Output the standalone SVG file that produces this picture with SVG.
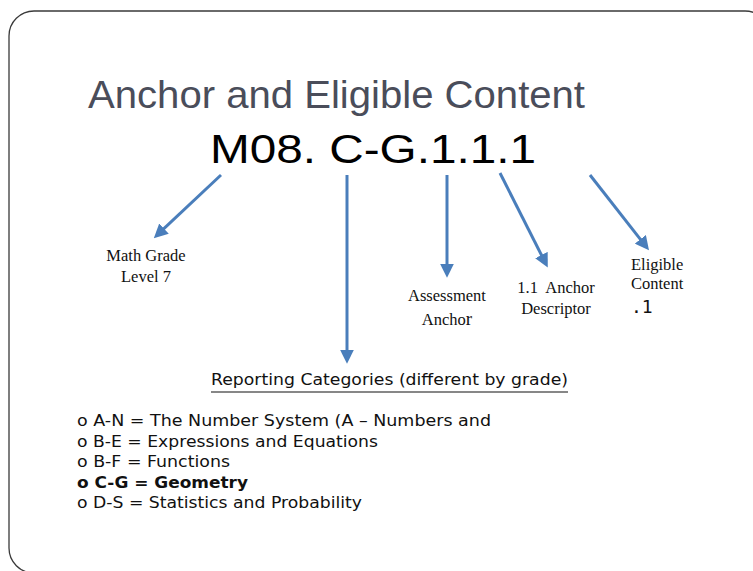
<svg xmlns="http://www.w3.org/2000/svg" width="753" height="571" viewBox="0 0 753 571">
<style>
.lbl{font-family:"Liberation Serif","Times New Roman",serif;font-size:16.5px;fill:#111}
.list{font-family:"DejaVu Sans",Verdana,sans-serif;font-size:15px;fill:#111}
.arr{stroke:#4A7EBB;stroke-width:3;fill:none;marker-end:url(#ah)}
</style>
<defs>
<marker id="ah" markerUnits="userSpaceOnUse" markerWidth="14" markerHeight="14" viewBox="0 0 12 12" refX="2" refY="6" orient="auto">
<path d="M0,0 L12,6 L0,12 z" fill="#4A7EBB"/>
</marker>
</defs>
<rect x="9" y="11" width="761" height="562" rx="25" ry="25" fill="#fff" stroke="#3a3a3a" stroke-width="1.3"/>
<g id="title">
<text x="88" y="108" font-family="Liberation Sans, Arial, sans-serif" font-size="39" fill="#4A4D5A" textLength="497" lengthAdjust="spacingAndGlyphs">Anchor and Eligible Content</text>
</g>
<g id="code">
<text x="210" y="163" font-family="Liberation Sans, Arial, sans-serif" font-size="41" fill="#000" textLength="326" lengthAdjust="spacingAndGlyphs">M08. C-G.1.1.1</text>
</g>
<g id="connectors">
<line class="arr" x1="221" y1="175" x2="162.3" y2="230.2"/>
<line class="arr" x1="347" y1="175" x2="347" y2="352"/>
<line class="arr" x1="447" y1="175" x2="447" y2="266"/>
<line class="arr" x1="500" y1="173" x2="542.5" y2="257.1"/>
<line class="arr" x1="590" y1="175" x2="641.8" y2="241.1"/>
</g>
<g id="math-grade">
<text class="lbl" x="146" y="261" text-anchor="middle">Math Grade</text>
<text class="lbl" x="146" y="282" text-anchor="middle">Level 7</text>
</g>
<g id="assessment-anchor">
<text class="lbl" x="447" y="301" text-anchor="middle">Assessment</text>
<text class="lbl" x="447" y="325" text-anchor="middle">Ancho<tspan font-size="19">r</tspan></text>
</g>
<g id="anchor-descriptor">
<text class="lbl" x="556" y="293" text-anchor="middle" xml:space="preserve">1.1  Anchor</text>
<text class="lbl" x="556" y="314" text-anchor="middle">Descriptor</text>
</g>
<g id="eligible-content">
<text class="lbl" x="631" y="270">Eligible</text>
<text class="lbl" x="631" y="289">Content</text>
<text x="631" y="313" font-family="DejaVu Sans Mono, Liberation Mono, monospace" font-size="18" fill="#111">.1</text>
</g>
<g id="reporting-categories">
<text x="211" y="385" font-family="DejaVu Sans, Verdana, sans-serif" font-size="15" fill="#111" textLength="357" lengthAdjust="spacingAndGlyphs">Reporting Categories (different by grade)</text>
<line x1="211" y1="392" x2="568" y2="392" stroke="#111" stroke-width="1.2"/>
<text class="list" x="77" y="426" textLength="414" lengthAdjust="spacingAndGlyphs">o A-N = The Number System (A – Numbers and</text>
<text class="list" x="77" y="447" textLength="301" lengthAdjust="spacingAndGlyphs">o B-E = Expressions and Equations</text>
<text class="list" x="77" y="467" textLength="153" lengthAdjust="spacingAndGlyphs">o B-F = Functions</text>
<text class="list" x="77" y="488" font-weight="bold" textLength="171" lengthAdjust="spacingAndGlyphs">o C-G = Geometry</text>
<text class="list" x="77" y="508" textLength="285" lengthAdjust="spacingAndGlyphs">o D-S = Statistics and Probability</text>
</g>
</svg>
